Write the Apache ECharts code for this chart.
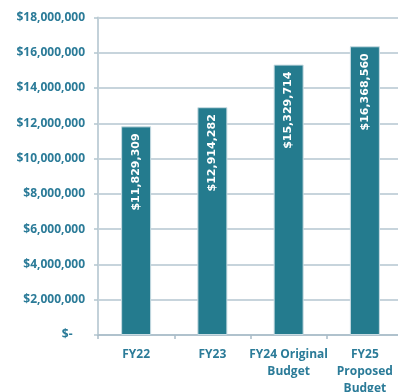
<!DOCTYPE html>
<html>
<head>
<meta charset="utf-8">
<script src="https://cdn.jsdelivr.net/npm/echarts@6/dist/echarts.min.js"></script>
<style>
  html, body { margin: 0; padding: 0; background: #fff; }
  #chart { width: 398px; height: 392px; }
</style>
</head>
<body>
<div id="chart"></div>
<script>
// Budget by fiscal year
const categories = ['FY22', 'FY23', 'FY24 Original\nBudget', 'FY25\nProposed\nBudget'];
const budgetValues = [11829309, 12914282, 15329714, 16368560];
const yTicks = { min: 0, max: 18000000, step: 2000000 };

const teal = '#247b8e';
const labelColor = '#2b7b98';
const gridColor = '#b4c6d0';

function money(v) {
  if (v === 0) return '$-    ';
  return '$' + v.toLocaleString('en-US');
}

const chart = echarts.init(document.getElementById('chart'), null, { renderer: 'canvas' });
chart.setOption({
  animation: false,
  grid: { left: 98, right: -5, top: 17.5, bottom: 57, outerBoundsMode: 'none', containLabel: false },
  xAxis: {
    type: 'category',
    data: categories,
    axisLine: { show: true, lineStyle: { color: '#a9bcc8', width: 1.5 } },
    axisTick: { show: true, length: 4, lineStyle: { color: '#a9bcc8', width: 1.5 } },
    axisLabel: {
      color: labelColor,
      fontFamily: 'Open Sans',
      fontWeight: 'bold',
      fontSize: 12,
      lineHeight: 17,
      margin: 11,
      interval: 0
    }
  },
  yAxis: {
    type: 'value',
    min: yTicks.min,
    max: yTicks.max,
    interval: yTicks.step,
    axisLine: { show: true, lineStyle: { color: '#c3d1d9', width: 2 } },
    axisTick: { show: true, length: 4, lineStyle: { color: gridColor, width: 1.5 } },
    splitLine: { show: true, lineStyle: { color: gridColor, width: 1.5 } },
    axisLabel: {
      color: labelColor,
      fontFamily: 'Open Sans',
      fontWeight: 'bold',
      fontSize: 12,
      margin: 13,
      formatter: money
    }
  },
  series: [{
    type: 'bar',
    data: budgetValues,
    barWidth: 30,
    itemStyle: { color: teal, borderColor: '#c9dce3', borderWidth: 1 },
    label: {
      show: true,
      position: 'insideTop',
      rotate: 90,
      align: 'right',
      verticalAlign: 'middle',
      distance: 7,
      color: '#ffffff',
      fontFamily: 'DejaVu Sans',
      fontWeight: 'bold',
      fontSize: 11,
      formatter: p => money(p.value)
    }
  }]
});
</script>
</body>
</html>
